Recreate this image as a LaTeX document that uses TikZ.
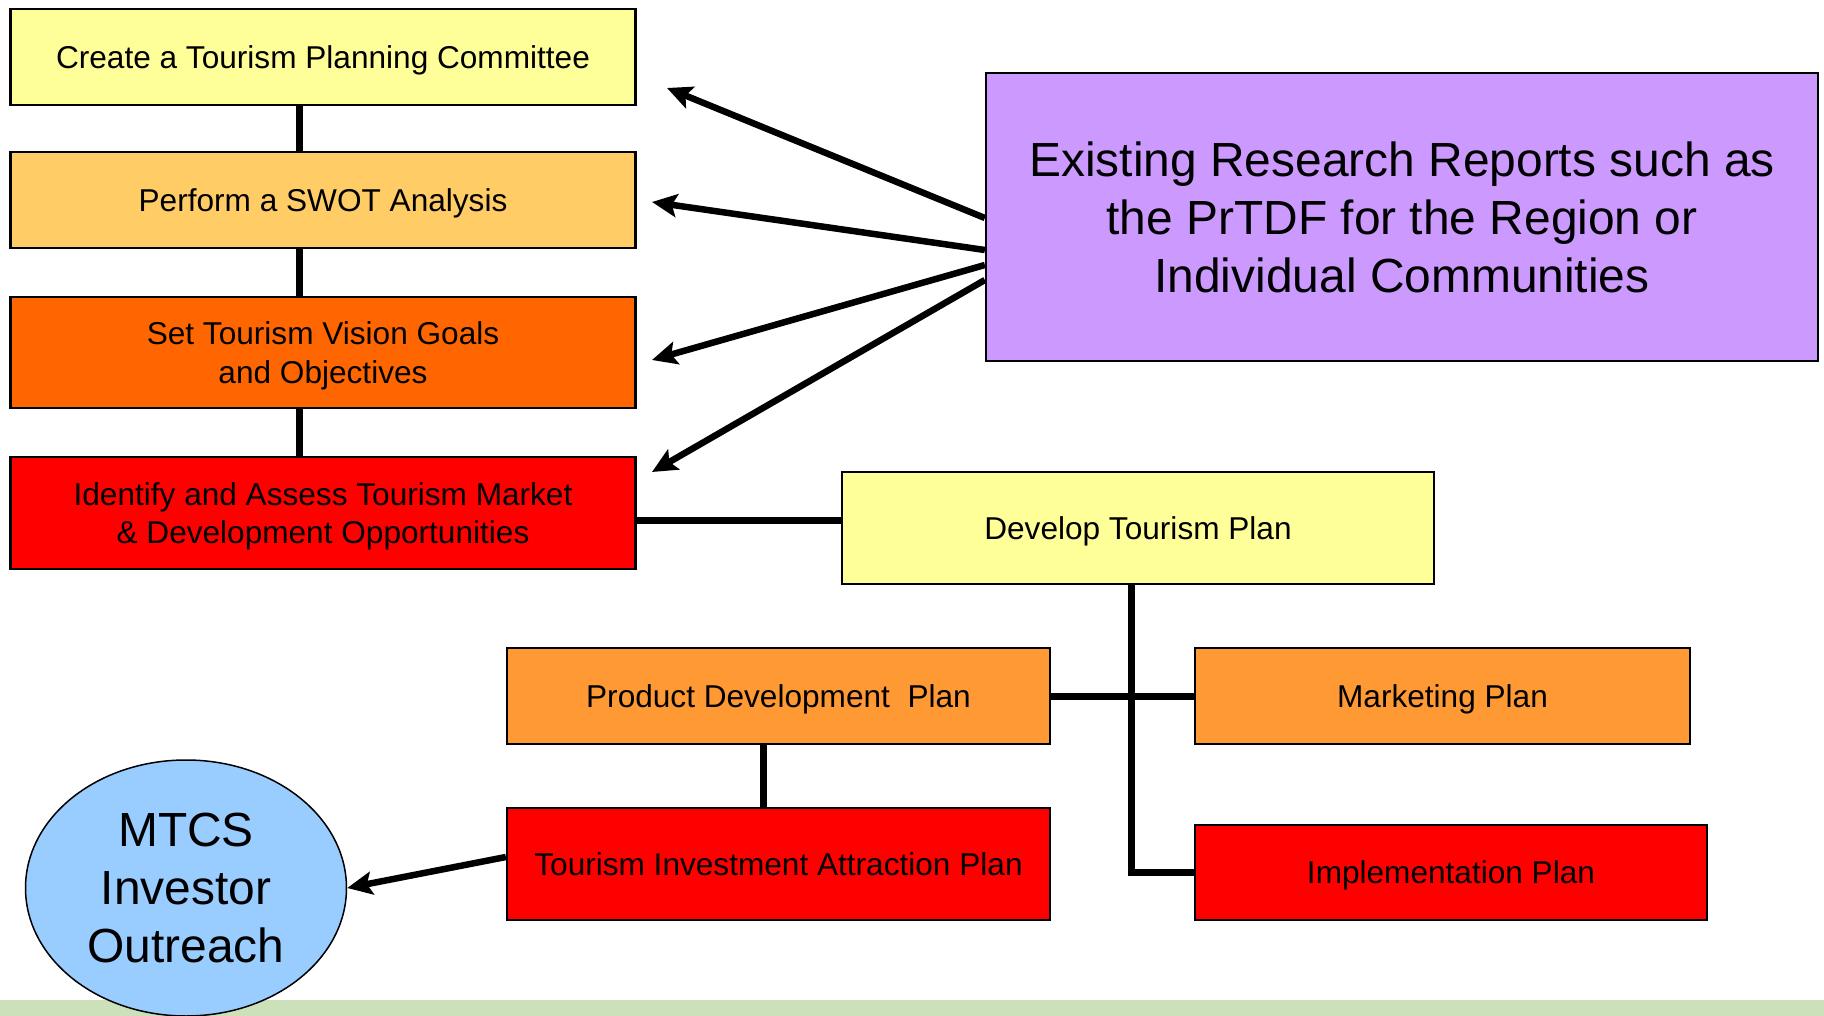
\documentclass[tikz,border=0pt]{standalone}
\usepackage{fontspec}
\setmainfont{Liberation Sans}
\usetikzlibrary{shapes.geometric,arrows.meta}

\definecolor{paleyellow}{HTML}{FFFF99}
\definecolor{lightorange}{HTML}{FFCC66}
\definecolor{deeporange}{HTML}{FF6600}
\definecolor{midorange}{HTML}{FF9933}
\definecolor{lilac}{HTML}{CC99FF}
\definecolor{skyblue}{HTML}{99CCFF}
\definecolor{footgreen}{RGB}{204,224,185}

\begin{document}
\begin{tikzpicture}[x=1pt,y=-1pt,
		box/.style={draw,line width=2.3pt,inner sep=0pt,align=center,text depth=0pt,
			font=\fontsize{31.6}{38.4}\selectfont},
		link/.style={line width=7pt},
		feed/.style={line width=6.5pt,-{Stealth[length=25pt,width=23pt,inset=5pt]}}]
		\useasboundingbox (0,0) rectangle (1824,1016);
		\fill[footgreen] (0,1000) rectangle (1824,1016);
		
		% planning steps
		\node[box,fill=paleyellow,minimum width=625pt,minimum height=96pt] (committee) at (323,57) {Create a Tourism Planning Committee};
		\node[box,fill=lightorange,minimum width=625pt,minimum height=96pt] (swot) at (323,200) {Perform a SWOT Analysis};
		\node[box,fill=deeporange,minimum width=625pt,minimum height=111pt] (vision) at (323,352.5) {Set Tourism Vision Goals\\and Objectives};
		\node[box,fill=red,minimum width=625pt,minimum height=112pt] (market) at (323,513) {Identify and Assess Tourism Market\\\& Development Opportunities};
		
		\node[box,fill=lilac,minimum width=832pt,minimum height=288pt,font=\fontsize{47.9}{58}\selectfont] (reports) at (1402,217)
		{Existing Research Reports such as\\the PrTDF for the Region or\\Individual Communities};
		
		% the plan and its parts
		\node[box,fill=paleyellow,minimum width=592pt,minimum height=112pt] (plan) at (1138,528) {Develop Tourism Plan};
		\node[box,fill=midorange,minimum width=543pt,minimum height=96pt] (product) at (778.5,696) {Product Development~ Plan};
		\node[box,fill=midorange,minimum width=495pt,minimum height=96pt] (marketing) at (1442.5,696) {Marketing Plan};
		\node[box,fill=red,minimum width=543pt,minimum height=112pt] (investment) at (778.5,864) {Tourism Investment Attraction Plan};
		\node[box,fill=red,minimum width=512pt,minimum height=95pt] (implementation) at (1451,872.5) {Implementation Plan};
		
		\node[ellipse,draw,line width=1.5pt,fill=skyblue,inner sep=0pt,minimum width=321pt,minimum height=256pt,
		align=center,font=\fontsize{47.9}{58}\selectfont] (mtcs) at (186,888) {MTCS\\Investor\\Outreach};
		
		\coordinate (tip1) at (667,88);
		\coordinate (tip2) at (652,202);
		\coordinate (tip3) at (652,360);
		\coordinate (tip4) at (652,472);
		
		\draw[link] ([xshift=-24pt]committee.south) -- ([xshift=-24pt]swot.north);
		\draw[link] ([xshift=-24pt]swot.south) -- ([xshift=-24pt]vision.north);
		\draw[link] ([xshift=-24pt]vision.south) -- ([xshift=-24pt]market.north);
		\draw[link] ([yshift=-7pt]market.east) -- ([yshift=-7pt]market.east -| plan.west);
		\draw[link] ([xshift=-7pt]plan.south) |- (implementation.west);
		\draw[link] (product.east) -- (marketing.west);
		\draw[link] ([xshift=-15.5pt]product.south) -- ([xshift=-15.5pt]investment.north);
		
		\path[feed]
		([yshift=-1pt]reports.west) edge (tip1)
		([yshift=-33pt]reports.west) edge (tip2)
		([yshift=-48pt]reports.west) edge (tip3)
		([yshift=-63pt]reports.west) edge (tip4)
		([yshift=7pt]investment.west) edge (mtcs.east);
\end{tikzpicture}
\end{document}
